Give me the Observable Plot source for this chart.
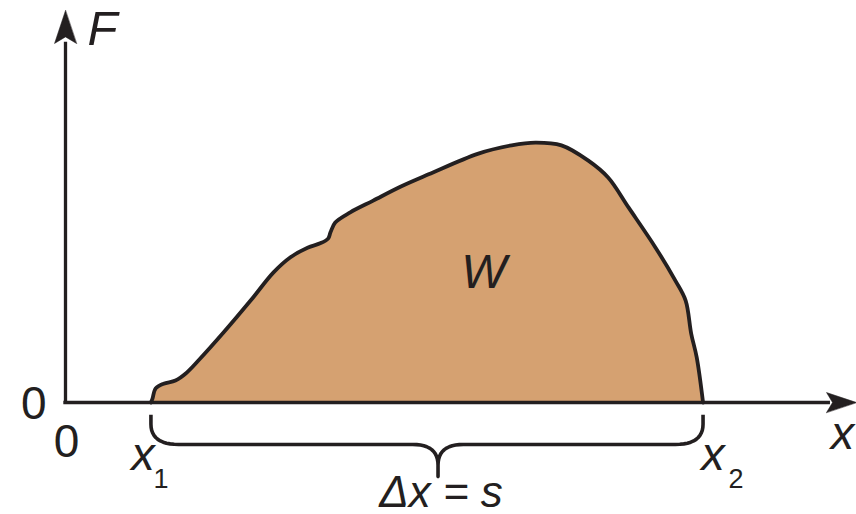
<!DOCTYPE html>
<html>
<head>
<meta charset="utf-8">
<script src="https://cdn.jsdelivr.net/npm/d3@7"></script>
<script src="https://cdn.jsdelivr.net/npm/@observablehq/plot@0.6"></script>
<style>
  html, body { margin: 0; padding: 0; background: #fff; overflow: hidden; }
  #chart svg { display: block; }
</style>
</head>
<body>
<div id="chart"></div>
<script>
// ---- data (arbitrary units: x from 0 to 100, F from 0 to 100) ----
const positionX = [10.8, 11.0, 11.4, 12.4, 13.9, 15.2, 16.8, 20.0, 23.4, 26.3, 28.4, 30.6, 32.2, 33.2, 33.5, 34.1, 36.0, 38.9, 42.4, 45.9, 52.2, 56.4, 59.4, 62.7, 66.1, 68.6, 71.2, 74.6, 77.1, 78.4, 79.1, 79.8, 80.6];
const forceF    = [0, 1.0, 3.6, 4.8, 5.6, 7.4, 10.7, 17.9, 26.0, 33.2, 37.0, 39.5, 40.6, 41.8, 43.4, 45.9, 48.5, 51.5, 55.1, 58.2, 63.5, 65.6, 66.3, 65.6, 61.7, 57.4, 49.7, 39.5, 31.1, 26.0, 17.6, 11.5, 0];
const xTickValues = [10.8, 80.6];          // x1, x2
const xTickNames  = ["x", "x"];
const xTickSubs   = ["1", "2"];
const axisMax = 100;
const originLabel = "0";
const axisLabels = {x: "x", y: "F"};
const areaLabel = "W";
const spanLabel = "Δx = s";

const curve = positionX.map((x, i) => ({x, F: forceF[i]}));
const [x1, x2] = xTickValues;

// ---- brace built from x1 and x2 ----
function quad(p0, p1, p2, n = 12) {
  const out = [];
  for (let i = 0; i <= n; i++) {
    const t = i / n, u = 1 - t;
    out.push({x: u*u*p0[0] + 2*u*t*p1[0] + t*t*p2[0], F: u*u*p0[1] + 2*u*t*p1[1] + t*t*p2[1]});
  }
  return out;
}
const tip = x1 + 0.52 * (x2 - x1);
const yTop = -3.1, yMid = -10.7, yBot = -18.9, yBend = -5.5, yTipBend = -16;
const brace = [
  {x: x1, F: yTop},
  ...quad([x1, yBend], [x1, yMid], [x1 + 3.5, yMid]),
  ...quad([tip - 3.2, yMid], [tip, yMid], [tip, yTipBend]),
  {x: tip, F: yBot},
  ...quad([tip, yTipBend], [tip, yMid], [tip + 3.2, yMid]),
  ...quad([x2 - 3.5, yMid], [x2, yMid], [x2, yBend]),
  {x: x2, F: yTop}
];

const ink = "#231f20";
const font = "'Liberation Sans', Arial, sans-serif";

const arrowShape = {
  draw(context, l, r) {
    context.moveTo(0, -l);
    context.lineTo(-r, 0);
    context.lineTo(0, -l * 0.2);
    context.lineTo(r, 0);
    context.closePath();
  }
};

const tickLabel = (i, dxMain, dxSub) => [
  Plot.text([xTickValues[i]], {x: d => d, y: 0, text: () => xTickNames[i], textAnchor: "middle", lineAnchor: "bottom", dx: dxMain, dy: 67, fontSize: 47, fontStyle: "italic", fill: ink}),
  Plot.text([xTickValues[i]], {x: d => d, y: 0, text: () => xTickSubs[i], textAnchor: "middle", lineAnchor: "bottom", dx: dxSub, dy: 85, fontSize: 27, fill: ink})
];

const chart = Plot.plot({
  width: 856,
  height: 514,
  marginTop: 10,
  marginRight: 0,
  marginBottom: 112,
  marginLeft: 65,
  x: {domain: [0, axisMax], axis: null},
  y: {domain: [0, axisMax], axis: null},
  style: {overflow: "visible", fontFamily: font, background: "#fff"},
  marks: [
    Plot.areaY(curve, {x: "x", y: "F", curve: "catmull-rom", fill: "#d5a171"}),
    Plot.ruleX([0], {y1: 0, y2: axisMax - 8.5, stroke: ink, strokeWidth: 3.3, strokeLinecap: "square"}),
    Plot.ruleY([0], {x1: 0, x2: axisMax - 3.5, stroke: ink, strokeWidth: 3.3, strokeLinecap: "square"}),
    Plot.line(curve, {x: "x", y: "F", curve: "catmull-rom", stroke: ink, strokeWidth: 3.8, strokeLinejoin: "round", strokeLinecap: "round"}),
    Plot.vector([{x: 0, F: axisMax}], {x: "x", y: "F", rotate: 0, length: 33, r: 11, anchor: "end", shape: arrowShape, fill: ink, stroke: ink, strokeWidth: 0.5}),
    Plot.vector([{x: axisMax, F: 0}], {x: "x", y: "F", rotate: 90, length: 30, r: 10, anchor: "end", shape: arrowShape, fill: ink, stroke: ink, strokeWidth: 0.5}),
    Plot.line(brace, {x: "x", y: "F", stroke: ink, strokeWidth: 3.6, strokeLinejoin: "round", strokeLinecap: "butt"}),
    // origin labels
    Plot.text([originLabel], {x: 0, y: 0, text: d => d, textAnchor: "end", lineAnchor: "bottom", dx: -19, dy: 16, fontSize: 46, fill: ink}),
    Plot.text([originLabel], {x: 0, y: 0, text: d => d, textAnchor: "middle", lineAnchor: "bottom", dx: 1, dy: 54, fontSize: 46, fill: ink}),
    // axis labels
    Plot.text([axisLabels.y], {x: 0, y: axisMax, text: d => d, textAnchor: "start", lineAnchor: "bottom", dx: 22, dy: 34, fontSize: 49, fontStyle: "italic", fill: ink}),
    Plot.text([axisLabels.x], {x: axisMax, y: 0, text: d => d, textAnchor: "middle", lineAnchor: "bottom", dx: -14, dy: 46, fontSize: 47, fontStyle: "italic", fill: ink}),
    // x1, x2 labels
    ...tickLabel(0, -8, 10),
    ...tickLabel(1, 10, 33),
    // area label
    Plot.text([areaLabel], {x: (x1 + x2) / 2, y: 0, text: d => d, textAnchor: "middle", lineAnchor: "bottom", dx: 57, dy: -115, fontSize: 48, fontStyle: "italic", fill: ink}),
    // span label
    Plot.text([spanLabel], {x: tip, y: 0, text: d => d, textAnchor: "middle", lineAnchor: "bottom", dx: 3, dy: 104, fontSize: 44, fontStyle: "italic", fill: ink})
  ]
});

document.getElementById("chart").append(chart);
</script>
</body>
</html>
